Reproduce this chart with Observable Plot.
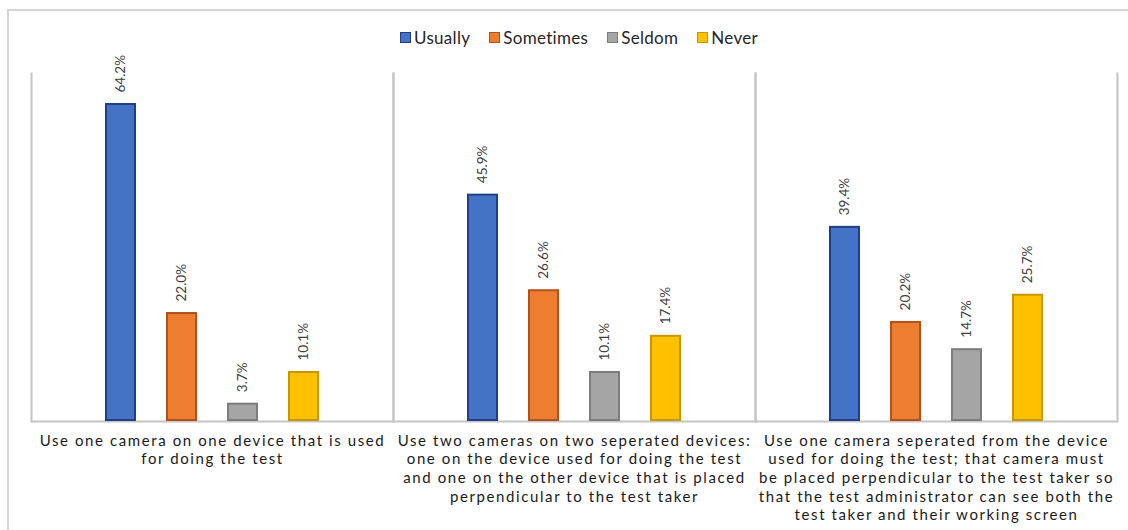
<!DOCTYPE html>
<html>
<head>
<meta charset="utf-8">
<script src="https://cdn.jsdelivr.net/npm/d3@7"></script>
<script src="https://cdn.jsdelivr.net/npm/@observablehq/plot@0.6"></script>
<style>
  html, body { margin: 0; padding: 0; background: #fff; overflow: hidden; }
  #wrap { position: relative; width: 1128px; height: 530px; font-family: Lato, "Open Sans", sans-serif; }
  #border { position: absolute; left: 7px; top: 9px; width: 1200px; height: 600px;
            border-left: 2px solid #d4d4d4; border-top: 2px solid #d4d4d4; }
  #legend { position: absolute; top: 27px; left: 0; width: 1128px; display: flex;
            justify-content: center; gap: 19px; padding-left: 30px; box-sizing: border-box;
            font-size: 17px; letter-spacing: 0.3px; color: #262626; }
  #legend .item { display: flex; align-items: center; gap: 3px; }
  #legend .sw { width: 9px; height: 9px; border: 1px solid; }
  #chart { position: absolute; left: 0; top: 0; }
</style>
</head>
<body>
<div id="wrap">
  <div id="border"></div>
  <div id="legend"></div>
  <div id="chart"></div>
</div>
<script>
// Camera setup options shown along the bottom
const categories = [
  "Use one camera on one device that is used for doing the test",
  "Use two cameras on two seperated devices: one on the device used for doing the test and one on the other device that is placed perpendicular to the test taker",
  "Use one camera seperated from the device used for doing the test; that camera must be placed perpendicular to the test taker so that the test administrator can see both the test taker and their working screen"
];
const categoryLabels = [
  "Use one camera on one device that is used\nfor doing the test",
  "Use two cameras on two seperated devices:\none on the device used for doing the test\nand one on the other device that is placed\nperpendicular to the test taker",
  "Use one camera seperated from the device\nused for doing the test; that camera must\nbe placed perpendicular to the test taker so\nthat the test administrator can see both the\ntest taker and their working screen"
];

// Response frequencies (percent)
const responses = ["Usually", "Sometimes", "Seldom", "Never"];
const usually   = [64.2, 45.9, 39.4];
const sometimes = [22.0, 26.6, 20.2];
const seldom    = [3.7, 10.1, 14.7];
const never     = [10.1, 17.4, 25.7];

const fills   = ["#4472C4", "#ED7D31", "#A5A5A5", "#FFC000"];
const strokes = ["#213F85", "#B0521A", "#7C7C7C", "#C89600"];

const series = [usually, sometimes, seldom, never];
const data = [];
categories.forEach((c, i) => {
  responses.forEach((r, j) => {
    data.push({category: c, response: r, value: series[j][i]});
  });
});

// Legend
const legend = d3.select("#legend");
responses.forEach((r, j) => {
  const item = legend.append("div").attr("class", "item");
  item.append("div").attr("class", "sw")
    .style("background", fills[j]).style("border-color", strokes[j]);
  item.append("span").text(r);
});

const labelOf = new Map(categories.map((c, i) => [c, categoryLabels[i]]));

const chart = Plot.plot({
  width: 1128,
  height: 530,
  marginTop: 73,
  marginBottom: 109,
  marginLeft: 31,
  marginRight: 11,
  style: {fontFamily: "Lato, 'Open Sans', sans-serif", background: "transparent"},
  fx: {domain: categories, padding: 0, axis: null},
  x: {domain: responses, paddingInner: 0.5, paddingOuter: 1.17, axis: null},
  y: {domain: [0, 70.26], axis: null},
  color: {domain: responses, range: fills},
  marks: [
    Plot.frame({anchor: "left", stroke: "#c4c4c4", strokeWidth: 2, strokeOpacity: 1}),
    Plot.frame({anchor: "right", stroke: "#c4c4c4", strokeWidth: 2, strokeOpacity: 1}),
    Plot.ruleY([0], {stroke: "#c4c4c4", strokeWidth: 2}),
    Plot.barY(data, {
      fx: "category", x: "response", y: "value",
      fill: "response",
      stroke: d => strokes[responses.indexOf(d.response)],
      strokeWidth: 2,
      inset: 1
    }),
    // value labels, rotated and set just above each bar
    Plot.text(data, {
      fx: "category", x: "response", y: "value",
      text: d => d.value.toFixed(1) + "%",
      rotate: -90, textAnchor: "start", dy: -11,
      fontSize: 13.5, fill: "#404040"
    }),
    Plot.axisFx({
      domain: categories,
      anchor: "bottom", tickSize: 0, tickPadding: 11,
      tickFormat: c => labelOf.get(c),
      fontSize: 15, lineHeight: 1.24, label: null,
      fill: "#1a1a1a", textOverflow: null, lineWidth: Infinity
    })
  ]
});

document.getElementById("chart").appendChild(chart);
d3.select(chart).selectAll("[aria-label='fx-axis tick label'] text")
  .style("letter-spacing", "1.6px");
</script>
</body>
</html>
